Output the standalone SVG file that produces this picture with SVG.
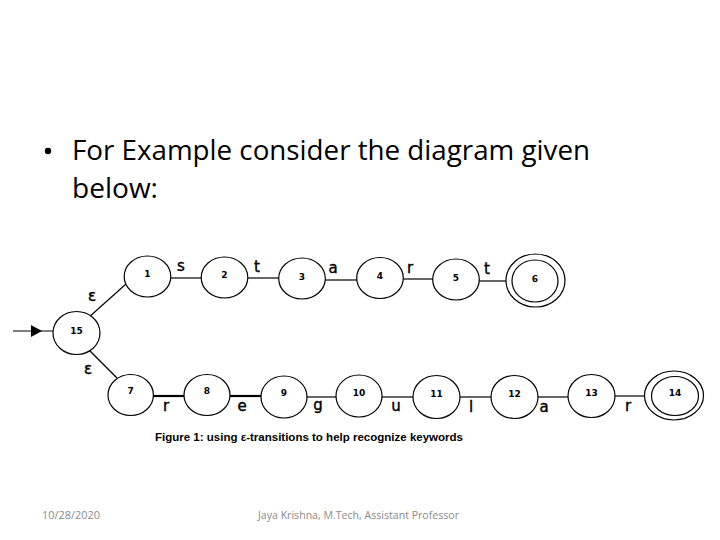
<svg xmlns="http://www.w3.org/2000/svg" width="720" height="540" viewBox="0 0 720 540">
<style>
.st{fill:#fff;stroke:#000;stroke-width:1.2}
.nl{font-family:"DejaVu Sans",sans-serif;font-weight:bold;font-size:9px;text-anchor:middle;fill:#000}
.el{font-family:"DejaVu Sans",sans-serif;font-size:15px;fill:#000;stroke:#000;stroke-width:0.4;text-anchor:middle}
.ed{stroke:#000;stroke-width:1.2;fill:none}
.edb{stroke:#000;stroke-width:2.2;fill:none}
.head{font-family:"Open Sans",sans-serif;font-size:28px;fill:#000}
.foot{font-family:"Open Sans",sans-serif;font-size:11.5px;fill:#8a8a8a}
</style>
<rect width="720" height="540" fill="#fff"/>
<g id="heading">
<circle cx="48" cy="151" r="3.2" fill="#000"/>
<text class="head" x="72" y="160" textLength="518" lengthAdjust="spacingAndGlyphs">For Example consider the diagram given</text>
<text class="head" x="72" y="198" textLength="86" lengthAdjust="spacingAndGlyphs">below:</text>
</g>
<g id="connectors">
<line class="ed" x1="13" y1="331" x2="53" y2="331"/>
<polygon points="31,325 42,331 31,337" fill="#000"/>
<line class="ed" x1="88" y1="318" x2="126" y2="284"/>
<line class="ed" x1="88" y1="349" x2="117" y2="378"/>
<line class="ed" x1="171" y1="278" x2="201" y2="278"/>
<line class="ed" x1="248" y1="278" x2="279" y2="278"/>
<line class="ed" x1="325" y1="280" x2="357" y2="280"/>
<line class="ed" x1="403" y1="279" x2="433" y2="279"/>
<line class="ed" x1="479" y1="281" x2="506" y2="281"/>
<line class="edb" x1="153" y1="396" x2="184" y2="396"/>
<line class="edb" x1="230" y1="396" x2="261" y2="396"/>
<line class="ed" x1="307" y1="397" x2="336" y2="397"/>
<line class="ed" x1="382" y1="397" x2="413" y2="397"/>
<line class="ed" x1="460" y1="397" x2="491" y2="397"/>
<line class="ed" x1="538" y1="397" x2="568" y2="397"/>
<line class="ed" x1="615" y1="396" x2="645" y2="396"/>
<text class="el" x="92" y="301">ε</text>
<text class="el" x="88" y="374">ε</text>
<text class="el" x="181" y="271">s</text>
<text class="el" x="257" y="272">t</text>
<text class="el" x="333" y="273">a</text>
<text class="el" x="410" y="273">r</text>
<text class="el" x="487" y="274">t</text>
<text class="el" x="166" y="411">r</text>
<text class="el" x="242" y="411">e</text>
<text class="el" x="318" y="410">g</text>
<text class="el" x="396" y="411">u</text>
<text class="el" x="471" y="412">l</text>
<text class="el" x="544" y="412">a</text>
<text class="el" x="628" y="411">r</text>
</g>
<g id="n15"><ellipse class="st" cx="76.5" cy="333" rx="23.5" ry="21.5"/><text class="nl" x="76.5" y="334">15</text></g>
<g id="n1"><ellipse class="st" cx="147.5" cy="276.5" rx="23.3" ry="20.5"/><text class="nl" x="147.5" y="277">1</text></g>
<g id="n2"><ellipse class="st" cx="224.5" cy="277.5" rx="23.3" ry="20.5"/><text class="nl" x="224.5" y="278">2</text></g>
<g id="n3"><ellipse class="st" cx="302" cy="278.5" rx="23.3" ry="20.5"/><text class="nl" x="302" y="280">3</text></g>
<g id="n4"><ellipse class="st" cx="380" cy="278" rx="23.3" ry="20.5"/><text class="nl" x="380" y="279">4</text></g>
<g id="n5"><ellipse class="st" cx="456" cy="279.5" rx="23.3" ry="20.5"/><text class="nl" x="456" y="281">5</text></g>
<g id="n6"><ellipse class="st" cx="535.5" cy="280.5" rx="29.5" ry="26.5"/><ellipse class="st" cx="535" cy="281" rx="23" ry="21"/><text class="nl" x="535" y="282">6</text></g>
<g id="n7"><ellipse class="st" cx="130.7" cy="395" rx="22.7" ry="20.5"/><text class="nl" x="130.7" y="394">7</text></g>
<g id="n8"><ellipse class="st" cx="207" cy="395" rx="23" ry="20.5"/><text class="nl" x="207" y="394">8</text></g>
<g id="n9"><ellipse class="st" cx="284" cy="397" rx="23" ry="21"/><text class="nl" x="284" y="396">9</text></g>
<g id="n10"><ellipse class="st" cx="359" cy="396" rx="23" ry="21"/><text class="nl" x="359" y="396">10</text></g>
<g id="n11"><ellipse class="st" cx="436.5" cy="397" rx="23.5" ry="21.5"/><text class="nl" x="436.5" y="397">11</text></g>
<g id="n12"><ellipse class="st" cx="514.5" cy="397" rx="23.5" ry="21.5"/><text class="nl" x="514.5" y="397">12</text></g>
<g id="n13"><ellipse class="st" cx="591.5" cy="396" rx="23.5" ry="21.5"/><text class="nl" x="591.5" y="396">13</text></g>
<g id="n14"><ellipse class="st" cx="674" cy="395.5" rx="29.5" ry="24.5"/><ellipse class="st" cx="675" cy="396" rx="23.5" ry="19.5"/><text class="nl" x="675" y="396">14</text></g>
<text x="155" y="441" font-family="Liberation Sans, sans-serif" font-weight="bold" font-size="11" textLength="308" lengthAdjust="spacingAndGlyphs">Figure 1: using ε-transitions to help recognize keywords</text>
<text class="foot" x="42" y="519" textLength="58" lengthAdjust="spacingAndGlyphs">10/28/2020</text>
<text class="foot" x="258" y="519" textLength="201" lengthAdjust="spacingAndGlyphs">Jaya Krishna, M.Tech, Assistant Professor</text>
</svg>
